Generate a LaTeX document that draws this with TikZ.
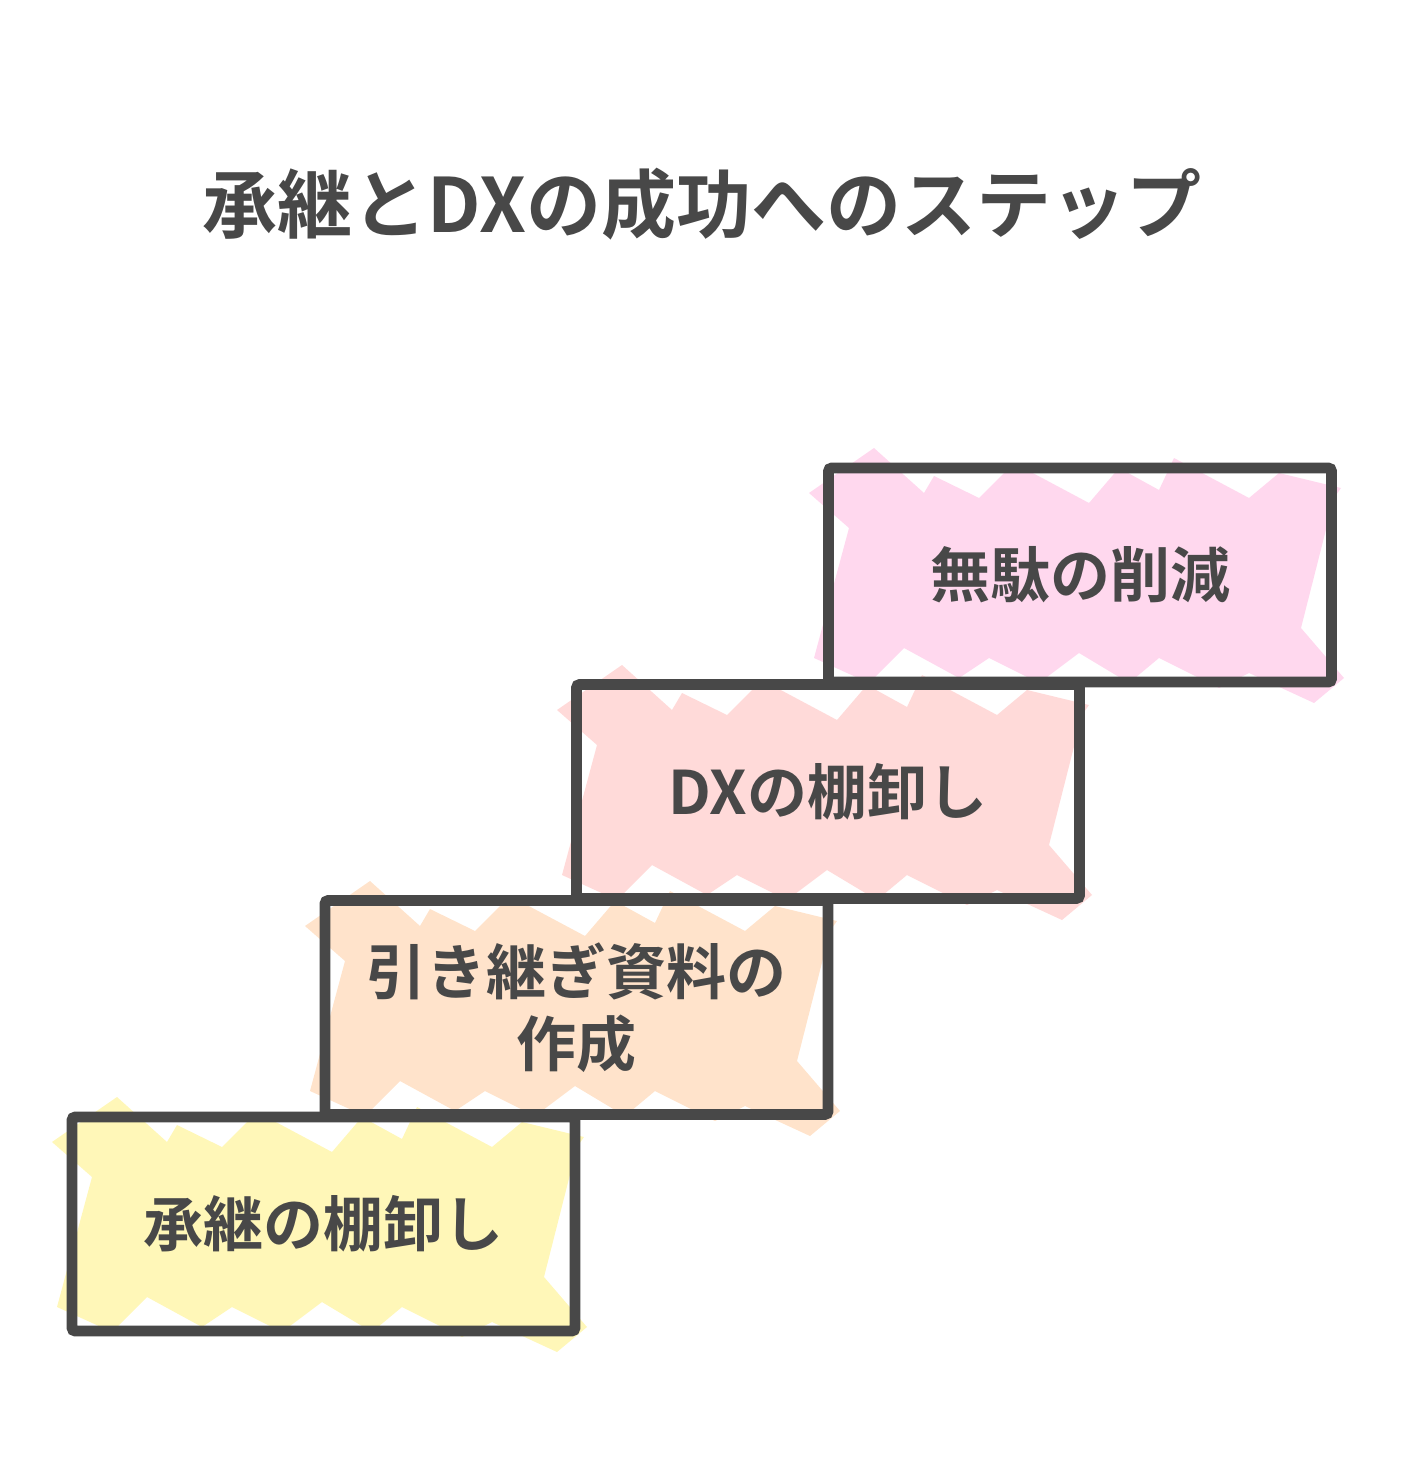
\documentclass[tikz,border=0pt]{standalone}
\usepackage{fontspec}
\newfontfamily\jpfont{Noto Sans CJK JP Bold}
\definecolor{ink}{HTML}{484848}
\definecolor{cpink}{HTML}{FFD8EE}
\definecolor{cred}{HTML}{FFDAD9}
\definecolor{cpeach}{HTML}{FFE3CB}
\definecolor{cyellow}{HTML}{FFF7B8}
\newcommand\hatchfill[3]{%
  \begin{scope}[shift={(#1,#2)}]
  \fill[#3] (-20,25) -- (45,-20) -- (95,25) -- (105,8) -- (150,30) -- (185,-5) -- (260,35) -- (290,0) -- (330,22) -- (345,-10) -- (420,30) -- (450,5) -- (512,20)
    -- (505,30) -- (472,160) -- (515,210) -- (485,235)
    -- (420,205) -- (390,220) -- (330,190) -- (300,215) -- (250,185) -- (210,215) -- (160,190) -- (130,210) -- (75,180) -- (40,215) -- (-15,190)
    -- (20,60) -- cycle;
  \end{scope}}
\tikzset{
  stepbox/.style={draw=ink, line width=5.3pt, rounded corners=1.5pt, minimum width=251.5pt, minimum height=107pt, inner sep=0pt, text=ink, font=\jpfont\fontsize{30pt}{36pt}\selectfont, align=center},
  titletext/.style={text=ink, font=\jpfont\fontsize{37.5pt}{44pt}\selectfont}
}
\begin{document}
\begin{tikzpicture}[x=0.5pt,y=-0.5pt]
\useasboundingbox (0,0) rectangle (1404,1476);
\node[titletext] (title) at (702,204) {承継とDXの成功へのステップ};
\hatchfill{829}{468}{cpink}
\hatchfill{577}{685}{cred}
\hatchfill{325}{901}{cpeach}
\hatchfill{72}{1117}{cyellow}
\node[stepbox] (s4) at (1080,575) {\raisebox{-1pt}{無駄の削減}};
\node[stepbox] (s3) at (828,791.5) {\raisebox{-1pt}{DXの棚卸し}};
\node[stepbox] (s2) at (576.5,1007.5) {引き継ぎ資料の\\作成};
\node[stepbox] (s1) at (323.5,1224) {\raisebox{-1pt}{承継の棚卸し}};
\end{tikzpicture}
\end{document}
